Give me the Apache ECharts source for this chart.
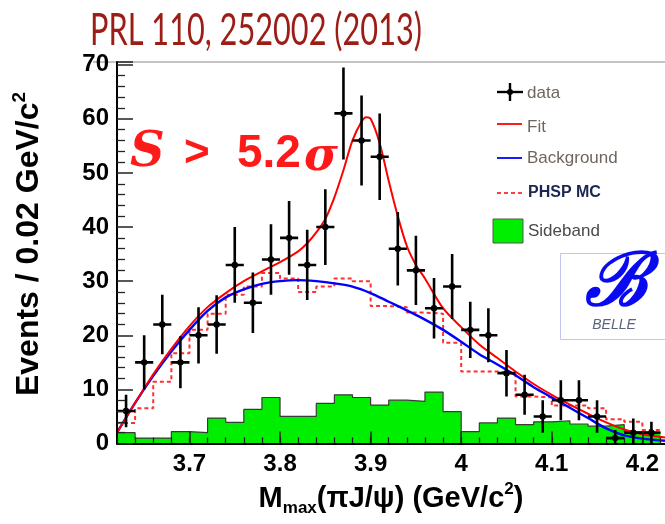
<!DOCTYPE html>
<html>
<head>
<meta charset="utf-8">
<script src="https://cdn.jsdelivr.net/npm/echarts@6/dist/echarts.min.js"></script>
<style>
  html, body { margin: 0; padding: 0; background: #fff; }
  #chart { width: 665px; height: 524px; }
</style>
</head>
<body>
<div id="chart"></div>
<script>
// bin centres (GeV/c^2), 0.02 wide
const binCenters = [3.63, 3.65, 3.67, 3.69, 3.71, 3.73, 3.75, 3.77, 3.79, 3.81,
                    3.83, 3.85, 3.87, 3.89, 3.91, 3.93, 3.95, 3.97, 3.99, 4.01,
                    4.03, 4.05, 4.07, 4.09, 4.11, 4.13, 4.15, 4.17, 4.19, 4.21];
const dataCounts = [6, 15, 22, 15, 20, 22, 33, 26, 34, 38, 33, 40, 61, 56, 53,
                    36, 32, 25, 29, 21, 20, 13, 9, 5, 8, 8, 5, 1, 2, 2];
const dataErrors = [3, 5, 5.5, 4.8, 5.2, 5.4, 7, 5.6, 6.5, 6.8, 6.5, 7, 8.5, 8.3, 8,
                    6.8, 6.4, 5.6, 6, 5.2, 5, 4.3, 3.7, 3, 3.7, 3.7, 3, 1.5, 2.6, 2];
const phspMC = [3.8, 6.5, 11.4, 16.7, 21, 24, 27.5, 29, 31.5, 30.5, 28, 29, 30.5, 30, 25.4,
                25.2, 24.2, 24, 18.6, 13.3, 13.3, 13, 8.7, 8.5, 7, 7, 6.5, 4.5, 4, 2.5];
const sideband = [2, 1, 1, 2.2, 2, 4.7, 3.9, 6.3, 8.5, 5, 5, 7.4, 9, 8.5, 7.1,
                  8, 7.8, 9.5, 5.9, 2.2, 3.8, 4.7, 3.5, 4, 4.2, 3.6, 3.2, 3.5, 2.2, 2.1];

// smooth curves
const bkgMass = [3.62, 3.64, 3.66, 3.68, 3.70, 3.72, 3.74, 3.76, 3.78, 3.80, 3.82, 3.84, 3.86,
                 3.88, 3.90, 3.92, 3.94, 3.96, 3.98, 4.00, 4.02, 4.04, 4.06, 4.08, 4.10,
                 4.12, 4.14, 4.16, 4.18, 4.20, 4.225];
const bkgVal = [2, 7.5, 12.5, 17, 21, 24.5, 27, 28.5, 29.5, 30, 30.2, 30, 29.6,
                29, 27.8, 26.2, 24.6, 22.9, 21, 18.8, 16.5, 14.6, 12.6, 10.4, 8.5,
                6.6, 4.7, 2.8, 1.5, 0.9, 0.5];
const fitMass = [3.62, 3.64, 3.66, 3.68, 3.70, 3.72, 3.74, 3.76, 3.78, 3.80, 3.82, 3.83, 3.84,
                 3.85, 3.86, 3.87, 3.88, 3.89, 3.895, 3.90, 3.91, 3.92, 3.93, 3.94, 3.95,
                 3.96, 3.98, 4.00, 4.02, 4.04, 4.06, 4.08, 4.10, 4.12, 4.14, 4.16, 4.18,
                 4.20, 4.225];
const fitVal = [2, 7.5, 12.8, 17.5, 21.7, 25.2, 27.8, 30, 31.8, 33.5, 35.5, 37, 39,
                41.5, 45.5, 50.5, 56, 59.5, 60.3, 60, 55.5, 48.5, 42, 36.5, 33,
                30.5, 25, 21.5, 18.3, 15.8, 13.3, 11, 9, 7.2, 5.5, 3.9, 2.6,
                1.7, 1.1];

const xLabels = [3.7, 3.8, 3.9, 4.0, 4.1, 4.2];
const binHalf = 0.01;

const binEdges = binCenters.map(c => c - binHalf).concat([binCenters[binCenters.length - 1] + binHalf]);

function stepData(values) {
  const out = binCenters.map((c, i) => [c - binHalf, values[i]]);
  out.push([binCenters[binCenters.length - 1] + binHalf, values[values.length - 1]]);
  return out;
}

function textScale(text, font, target) {
  const ctx = document.createElement('canvas').getContext('2d');
  ctx.font = font;
  return target / ctx.measureText(text).width;
}

const AX = 'Liberation Sans, Arial, sans-serif';

function renderPoint(params, api) {
  const x = api.value(0), y = api.value(1), e = api.value(2);
  const c = api.coord([x, y]);
  const hi = api.coord([x, y + e]);
  const lo = api.coord([x, Math.max(y - e, 0)]);
  const l = api.coord([x - binHalf, y]);
  const r = api.coord([x + binHalf, y]);
  return {
    type: 'group',
    children: [
      { type: 'line', shape: { x1: c[0], y1: hi[1], x2: c[0], y2: lo[1] }, style: { stroke: '#000', lineWidth: 2.6 } },
      { type: 'line', shape: { x1: l[0], y1: c[1], x2: r[0], y2: c[1] }, style: { stroke: '#000', lineWidth: 2.6 } },
      { type: 'circle', shape: { cx: c[0], cy: c[1], r: 3.2 }, style: { fill: '#000' } }
    ]
  };
}

const titleText = 'PRL 110, 252002 (2013)';
const titleFont = 'normal 44px Lato';
const titleScale = textScale(titleText, titleFont, 332);

const chart = echarts.init(document.getElementById('chart'));

const option = {
  backgroundColor: '#fff',
  animation: false,
  grid: { left: 117, right: 0, top: 62, bottom: 80.5, containLabel: false },
  xAxis: [
    {
      type: 'value', min: 3.62, max: 4.225, z: 10,
      axisLine: { show: true, lineStyle: { color: '#000', width: 2 } },
      axisTick: { show: true, inside: true, length: 12, customValues: xLabels, lineStyle: { color: '#222', width: 1.5 } },
      axisLabel: { customValues: xLabels, color: '#000', fontFamily: AX, fontWeight: 'bold', fontSize: 24, margin: 9 },
      splitLine: { show: false }
    },
    {
      type: 'value', min: 3.62, max: 4.225, z: 10, position: 'bottom',
      axisLine: { show: false },
      axisTick: { show: true, inside: true, length: 6, customValues: binEdges, lineStyle: { color: '#222', width: 1.3 } },
      axisLabel: { show: false },
      splitLine: { show: false }
    }
  ],
  yAxis: {
    type: 'value', min: 0, max: 70.5, interval: 10, z: 10,
    axisLine: { show: true, lineStyle: { color: '#000', width: 2 } },
    axisTick: { show: true, inside: true, length: 16, lineStyle: { color: '#222', width: 1.5 } },
    minorTick: { show: true, splitNumber: 5, length: 8, lineStyle: { color: '#222', width: 1.3 } },
    axisLabel: { color: '#000', fontFamily: AX, fontWeight: 'bold', fontSize: 24, margin: 8, showMaxLabel: false },
    splitLine: { show: false }
  },
  series: [
    {
      name: 'Sideband', type: 'line', step: 'end', z: 1,
      data: stepData(sideband), showSymbol: false,
      lineStyle: { color: '#3a3a3a', width: 1.2 },
      areaStyle: { color: '#00ee00', opacity: 1 }
    },
    {
      name: 'PHSP MC', type: 'line', step: 'end', z: 2,
      data: stepData(phspMC), showSymbol: false,
      lineStyle: { color: '#ff3030', width: 2, type: [4, 3] }
    },
    {
      name: 'Background', type: 'line', z: 3, smooth: 0.3,
      data: bkgMass.map((m, i) => [m, bkgVal[i]]), showSymbol: false,
      lineStyle: { color: '#0000ff', width: 2.4 }
    },
    {
      name: 'Fit', type: 'line', z: 4, smooth: 0.3,
      data: fitMass.map((m, i) => [m, fitVal[i]]), showSymbol: false,
      lineStyle: { color: '#ff0000', width: 2 }
    },
    {
      name: 'data', type: 'custom', z: 5, clip: true,
      renderItem: renderPoint,
      encode: { x: 0, y: 1 },
      data: binCenters.map((c, i) => [c, dataCounts[i], dataErrors[i]])
    }
  ],
  graphic: [
    // title
    { type: 'text', x: 90, y: 31, scaleX: titleScale, style: { text: titleText, font: titleFont, fill: '#9c1c16', verticalAlign: 'middle', align: 'left' } },
    { type: 'line', shape: { x1: 93, y1: 62, x2: 665, y2: 62 }, style: { stroke: '#888', lineWidth: 1 } },
    // axis titles
    {
      type: 'text', x: 29, y: 244, rotation: Math.PI / 2,
      style: {
        text: '{t|Events / 0.02 GeV/c}{s|2}', align: 'center', verticalAlign: 'middle',
        rich: {
          t: { fontFamily: AX, fontWeight: 'bold', fontSize: 32, lineHeight: 38, fill: '#000' },
          s: { fontFamily: AX, fontWeight: 'bold', fontSize: 19, lineHeight: 16, verticalAlign: 'top', fill: '#000' }
        }
      }
    },
    {
      type: 'text', x: 391, y: 499,
      style: {
        text: '{t|M}{b|max}{t|(πJ/ψ) (GeV/c}{s|2}{t|)}', align: 'center', verticalAlign: 'middle',
        rich: {
          t: { fontFamily: AX, fontWeight: 'bold', fontSize: 29, lineHeight: 36, fill: '#000' },
          b: { fontFamily: AX, fontWeight: 'bold', fontSize: 17, lineHeight: 12, verticalAlign: 'bottom', fill: '#000' },
          s: { fontFamily: AX, fontWeight: 'bold', fontSize: 17, lineHeight: 14, verticalAlign: 'top', fill: '#000' }
        }
      }
    },
    // significance
    { type: 'text', x: 130, y: 154, style: { text: 'S', font: 'italic bold 48px DejaVu Serif', fill: '#ff1a1a', verticalAlign: 'middle' } },
    { type: 'text', x: 184, y: 154, style: { text: '>', font: 'bold 44px ' + AX, fill: '#ff1a1a', verticalAlign: 'middle' } },
    { type: 'text', x: 237, y: 154, style: { text: '5.2', font: 'bold 46px ' + AX, fill: '#ff1a1a', verticalAlign: 'middle' } },
    { type: 'text', x: 304, y: 158, style: { text: 'σ', font: 'italic bold 46px DejaVu Serif', fill: '#ff1a1a', verticalAlign: 'middle' } },
    // legend
    { type: 'line', shape: { x1: 497, y1: 92, x2: 523, y2: 92 }, style: { stroke: '#000', lineWidth: 2.4 } },
    { type: 'line', shape: { x1: 510, y1: 83, x2: 510, y2: 101 }, style: { stroke: '#000', lineWidth: 2.4 } },
    { type: 'circle', shape: { cx: 510, cy: 92, r: 3 }, style: { fill: '#000' } },
    { type: 'text', x: 527, y: 93, style: { text: 'data', font: '17px ' + AX, fill: '#6f675e', verticalAlign: 'middle' } },
    { type: 'line', shape: { x1: 497, y1: 124, x2: 522, y2: 124 }, style: { stroke: '#ff0000', lineWidth: 1.8 } },
    { type: 'text', x: 527, y: 127, style: { text: 'Fit', font: '17px ' + AX, fill: '#6f675e', verticalAlign: 'middle' } },
    { type: 'line', shape: { x1: 497, y1: 158, x2: 522, y2: 158 }, style: { stroke: '#0000ff', lineWidth: 1.8 } },
    { type: 'text', x: 527, y: 158, style: { text: 'Background', font: '17px ' + AX, fill: '#6f675e', verticalAlign: 'middle' } },
    { type: 'line', shape: { x1: 497, y1: 193, x2: 522, y2: 193 }, style: { stroke: '#ff4040', lineWidth: 2, lineDash: [4, 3] } },
    { type: 'text', x: 528, y: 193, style: { text: 'PHSP MC', font: 'bold 16px ' + AX, fill: '#1c2650', verticalAlign: 'middle' } },
    { type: 'rect', shape: { x: 493, y: 219, width: 30, height: 24 }, style: { fill: '#00ee00', stroke: '#555', lineWidth: 1 } },
    { type: 'text', x: 528, y: 231, style: { text: 'Sideband', font: '17px ' + AX, fill: '#4a4a4a', verticalAlign: 'middle' } },
    // Belle logo
    { type: 'rect', shape: { x: 560.5, y: 253.5, width: 110, height: 86 }, style: { fill: '#fff', stroke: '#c4c4f4', lineWidth: 1 } },
    { type: 'text', x: 616, y: 286, style: { text: 'ℬ', font: 'italic bold 74px DejaVu Serif', fill: '#0a0af0', align: 'center', verticalAlign: 'middle' } },
    { type: 'text', x: 614, y: 325, style: { text: 'BELLE', font: 'italic 14px ' + AX, fill: '#5a6478', align: 'center', verticalAlign: 'middle' } }
  ]
};

chart.setOption(option);
</script>
</body>
</html>
